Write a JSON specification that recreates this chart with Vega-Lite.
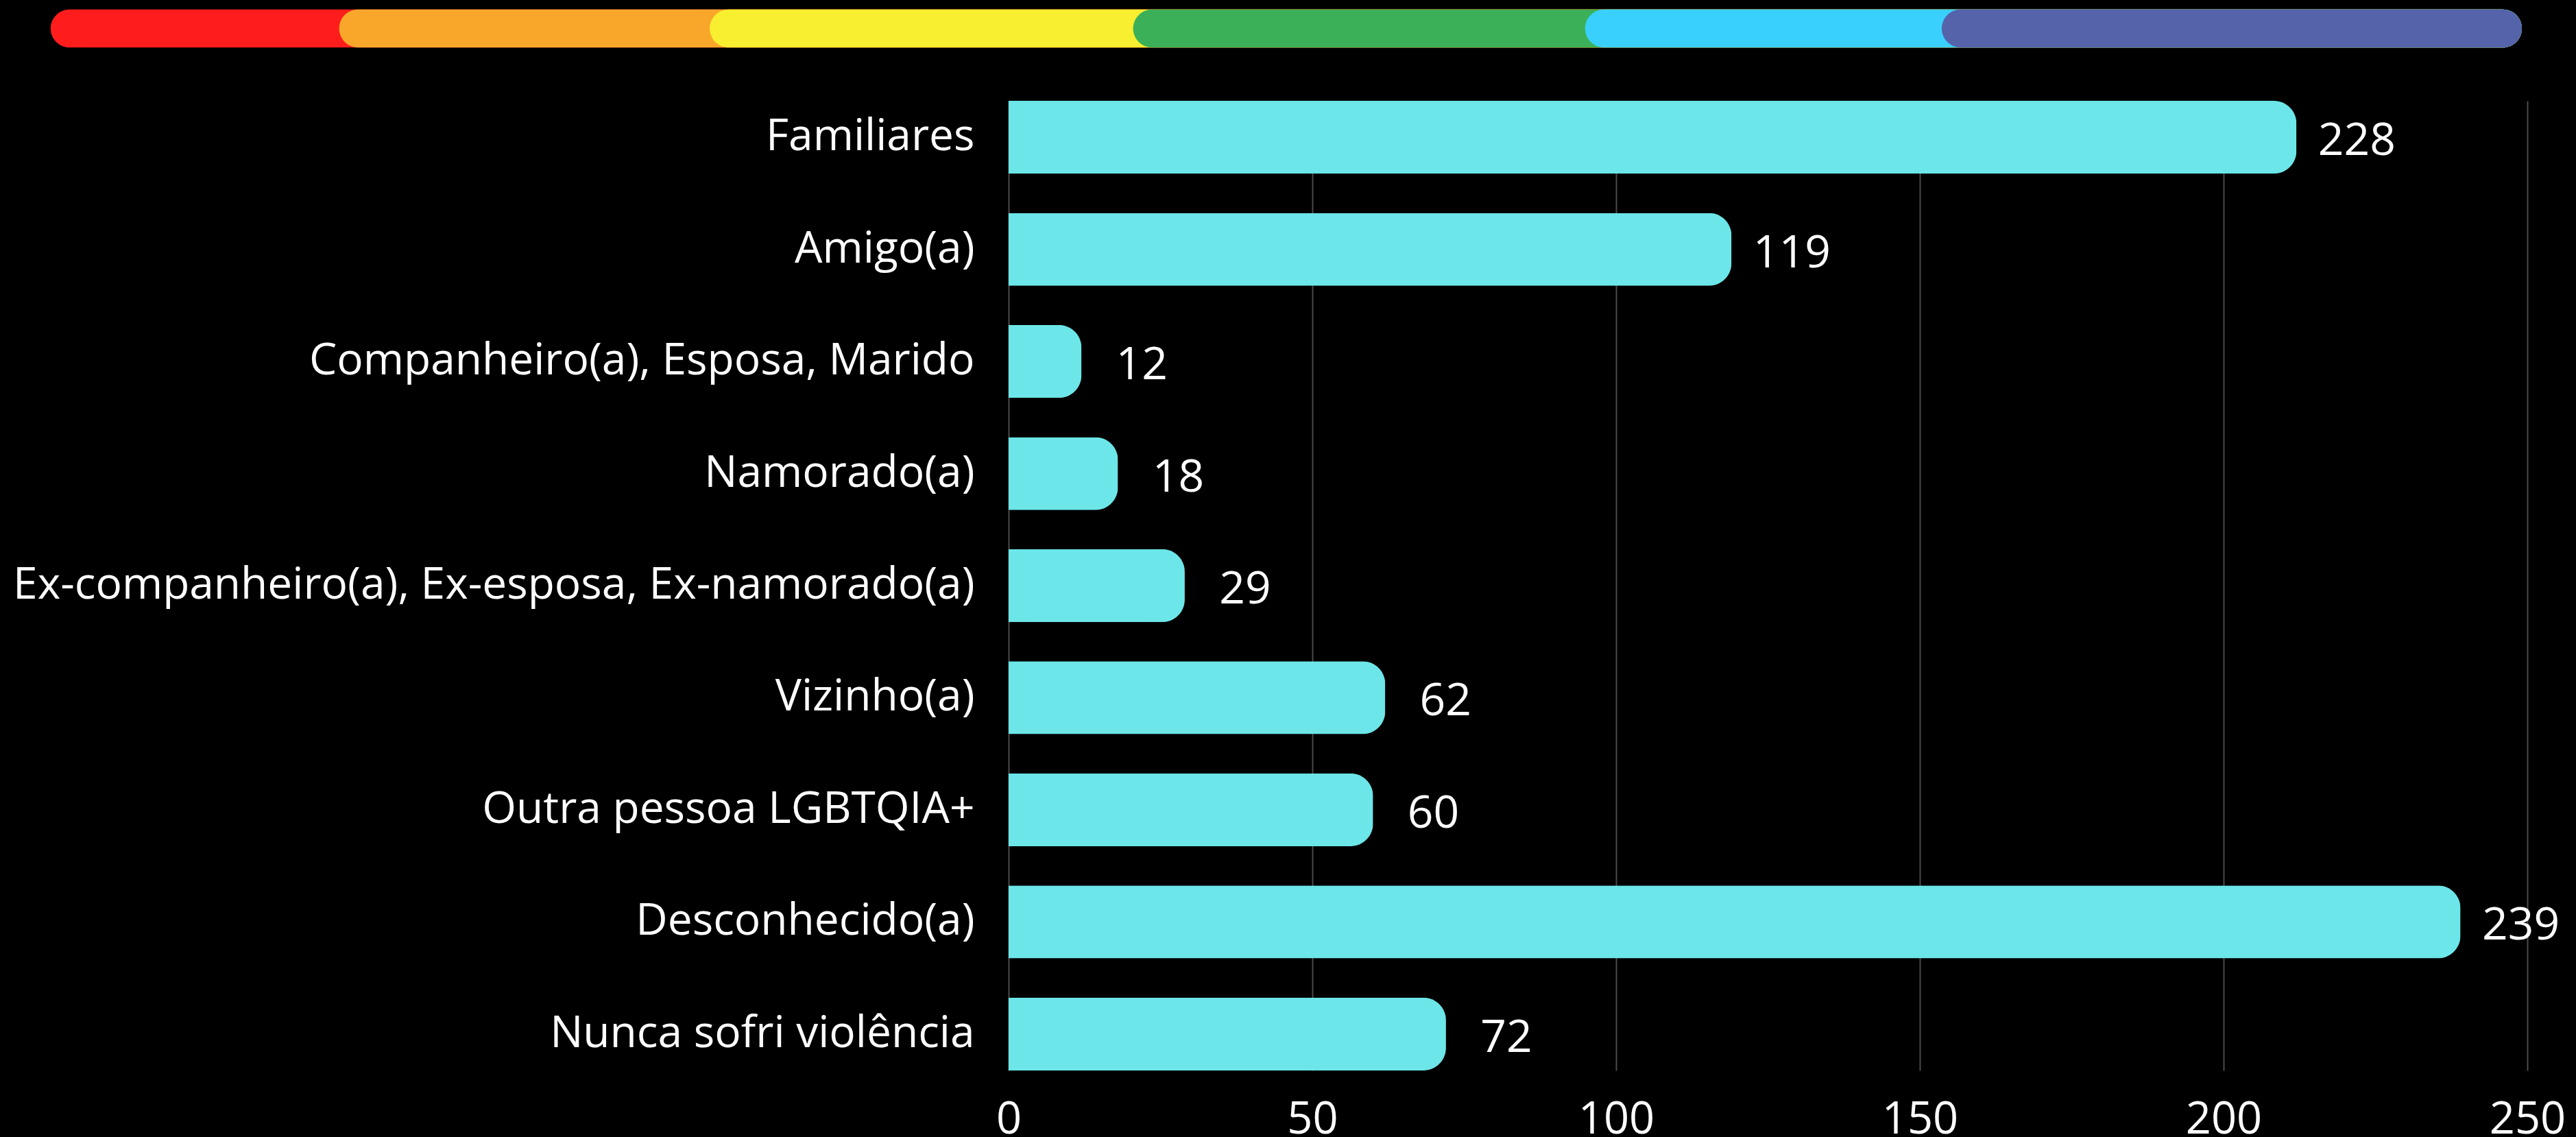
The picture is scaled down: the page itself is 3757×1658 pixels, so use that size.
{
  "$schema": "https://vega.github.io/schema/vega-lite/v6.json",
  "width": 2215,
  "height": 1414,
  "autosize": {"type": "none"},
  "padding": {"left": 1471, "top": 147, "right": 71, "bottom": 97},
  "background": "#000000",
  "config": {"view": {"stroke": null}, "font": "Open Sans"},
  "datasets": {
    "faixas": [
      {"faixa": "vermelho", "ordem": 1, "inicio": -157.7, "fim": 249.1, "topo": 1.0943, "base": 1.0549},
      {"faixa": "laranja", "ordem": 2, "inicio": -110.2, "fim": 249.1, "topo": 1.0943, "base": 1.0549},
      {"faixa": "amarelo", "ordem": 3, "inicio": -49.2, "fim": 249.1, "topo": 1.0943, "base": 1.0549},
      {"faixa": "verde", "ordem": 4, "inicio": 20.5, "fim": 249.1, "topo": 1.0943, "base": 1.0549},
      {"faixa": "azul", "ordem": 5, "inicio": 94.9, "fim": 249.1, "topo": 1.0943, "base": 1.0549},
      {"faixa": "anil", "ordem": 6, "inicio": 153.6, "fim": 249.1, "topo": 1.0943, "base": 1.0549}
    ],
    "agressores": [
      {"agressor": "Familiares", "valor": 212, "rotulo": "228"},
      {"agressor": "Amigo(a)", "valor": 119, "rotulo": "119"},
      {"agressor": "Companheiro(a), Esposa, Marido", "valor": 12, "rotulo": "12"},
      {"agressor": "Namorado(a)", "valor": 18, "rotulo": "18"},
      {"agressor": "Ex-companheiro(a), Ex-esposa, Ex-namorado(a)", "valor": 29, "rotulo": "29"},
      {"agressor": "Vizinho(a)", "valor": 62, "rotulo": "62"},
      {"agressor": "Outra pessoa LGBTQIA+", "valor": 60, "rotulo": "60"},
      {"agressor": "Desconhecido(a)", "valor": 239, "rotulo": "239"},
      {"agressor": "Nunca sofri violência", "valor": 72, "rotulo": "72"}
    ]
  },
  "layer": [
    {
      "data": {"name": "faixas"},
      "mark": {"type": "bar", "cornerRadius": 28},
      "encoding": {
        "x": {"field": "inicio", "type": "quantitative", "scale": {"domain": [0, 250], "nice": false, "zero": false}, "axis": null},
        "x2": {"field": "fim"},
        "y": {"field": "topo", "type": "quantitative", "scale": {"domain": [0, 1], "nice": false, "zero": false}, "axis": null},
        "y2": {"field": "base"},
        "color": {
          "field": "faixa",
          "type": "nominal",
          "scale": {
            "domain": ["vermelho", "laranja", "amarelo", "verde", "azul", "anil"],
            "range": ["#ff1c1c", "#f9a72b", "#f7ef2f", "#3cb058", "#3ad0fd", "#5563ab"]
          },
          "legend": null
        },
        "order": {"field": "ordem", "type": "quantitative"}
      }
    },
    {
      "data": {"name": "agressores"},
      "encoding": {
        "y": {
          "field": "agressor",
          "type": "nominal",
          "sort": null,
          "scale": {"paddingInner": 0.35, "paddingOuter": 0},
          "axis": {
            "title": null,
            "domain": false,
            "ticks": false,
            "labelColor": "#ffffff",
            "labelFontSize": 64,
            "labelFont": "Open Sans",
            "labelPadding": 50,
            "labelLimit": 3000
          }
        },
        "x": {
          "field": "valor",
          "type": "quantitative",
          "scale": {"domain": [0, 250], "nice": false},
          "axis": {
            "title": null,
            "values": [0, 50, 100, 150, 200, 250],
            "domain": false,
            "ticks": false,
            "grid": true,
            "gridColor": "#4a4a4a",
            "gridWidth": 2,
            "labelColor": "#ffffff",
            "labelFontSize": 65,
            "labelFont": "Open Sans",
            "labelPadding": 40,
            "labelFlush": false
          }
        }
      },
      "layer": [
        {
          "mark": {"type": "bar", "color": "#6ce6e8", "cornerRadiusEnd": 33}
        },
        {
          "mark": {"type": "text", "align": "center", "baseline": "middle", "dx": 88, "dy": 6, "fontSize": 66, "color": "#ffffff", "font": "Open Sans"},
          "encoding": {"text": {"field": "rotulo", "type": "nominal"}}
        }
      ]
    }
  ],
  "resolve": {"scale": {"x": "independent", "y": "independent", "color": "independent"}, "axis": {"x": "independent", "y": "independent"}}
}
